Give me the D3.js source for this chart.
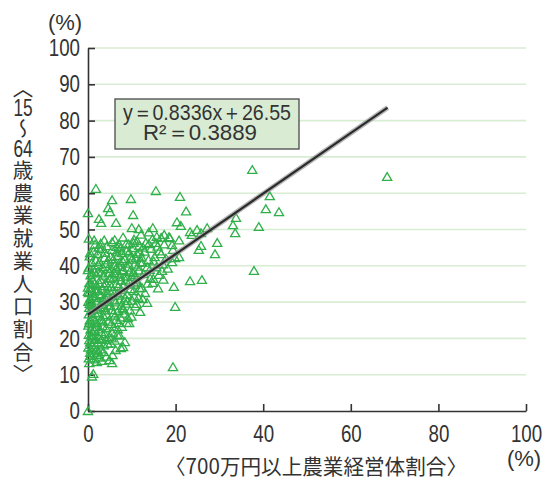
<!DOCTYPE html>
<html>
<head>
<meta charset="utf-8">
<script src="https://cdn.jsdelivr.net/npm/d3@7"></script>
<style>
  body { margin: 0; background: #fff; }
  svg text { fill: #333; }
  .vert { writing-mode: vertical-rl; text-orientation: mixed; }
</style>
</head>
<body>
<div id="chart"></div>
<script>
// tick values
var xTicks = [0, 20, 40, 60, 80, 100];
var yTicks = [0, 10, 20, 30, 40, 50, 60, 70, 80, 90, 100];

// regression
var slope = 0.8336;
var intercept = 26.55;
var r2 = 0.3889;
var lineRange = [0, 68.4];

var xLabel = "〈700万円以上農業経営体割合〉";
// vertical label split in runs: CJK runs stand upright, numbers sit across
var yLabelRuns = ["〈", "15", "〜", "64", "歳農業就業人口割合〉"];
var unit = "(%)";

// [700万円以上割合, 15~64歳就業人口割合]
var ptsSparse = [
  [0,0],[0.9,9.5],[1.2,10.2],[19.4,12.1],[5.5,13.2],[4.9,14],[2,13.5],[8,17.6],[8.4,19],[9.4,24.2],
  [9.1,25.6],[11.9,27.3],[13.5,29.8],[13,32.5],[14.8,35.3],[15.7,48],[19.6,34.2],[19.9,28.7],
  [37.5,66.4],[68.3,64.5],[41.5,59.2],[40.6,55.6],[43.6,54.8],[39,50.7],[33.8,53.2],[33.1,51.2],
  [33.6,49],[23.3,49.3],[24.9,49.9],[27.2,50.4],[25.8,49],[23.7,48.5],[20.8,47],[29.5,46.3],
  [25.8,45.5],[25.3,44.4],[29,43.2],[37.9,38.6],[23.3,35.8],[26,36.1],[21,59],[22.4,55],[20.3,52],
  [21.2,51],[18.7,47.6],[19.2,45.7],[19.4,44.4],[20.8,42.4],[19.9,42.1],[19.2,41],
  [1.8,61.2],[15.5,60.6],[5.5,58.1],[9.8,58.4],[4.6,55.9],[5,54.8],[0,54.5],[10.3,54],[2.5,52.9],
  [3,51.8],[6.4,51.8],[10,50.4],[11.6,50.1],[14.8,50.4],[17.4,48.5],[18.5,47.9],[16.7,47.7],
  [1.4,47],[3.7,47],[5.5,46.5],[7.1,46],[8.7,46],[11.2,46.8],[13.9,46],[15.5,46.3],[0,38.8],[0,34],[0,32.8]
];
var ptsNearZero = [
  [0.2,14.5],[0.5,16],[0.1,17.5],[0.8,18.2],[0.3,19.5],[1.1,20.3],[0.2,21],[0.6,22.4],[1.5,22],[0.1,23.5],
  [0.9,24.1],[1.8,23.2],[0.4,25],[1.2,25.8],[0.2,26.6],[0.7,27.5],[1.6,27],[0.3,28.4],[1.0,29.2],[0.1,30.1],
  [1.9,29.8],[0.5,31],[1.3,31.7],[0.2,32.5],[0.8,33.6],[1.7,33],[0.3,35.2],[1.1,36],[0.6,37.4],[1.5,38.2],
  [0.2,39.5],[0.9,40.8],[1.8,41.5],[0.4,42.6],[1.3,44],[0.7,20.9],[1.4,18.8],[0.6,15.2],[1.9,16.7],[1.2,14.2],
  [1.7,19.6],[0.4,29.5],[1.5,35],[0.9,37.9],
  [0.3,13.2],[0.7,17],[1.4,16],[0.5,18.9],[1.0,21.7],[1.6,24.6],[0.3,24.2],[1.3,28],[0.6,30.4],[1.7,31.2],
  [0.9,34.8],[1.2,39],[0.5,43.5],[1.6,45.8],[0.2,47.5]
];
var ptsLow = [
  [2.1,15.5],[2.8,17],[3.5,16.2],[4.2,15],[2.4,18.8],[3.1,19.7],[4.5,18.5],[2.2,20.6],[3.8,21.2],[4.8,20.4],
  [2.6,22.5],[3.3,23.4],[4.1,22.8],[2.0,24.3],[2.9,25.1],[4.6,24.6],[3.6,26],[2.3,26.9],[4.0,27.7],[2.7,28.6],
  [3.4,29.3],[4.7,28.9],[2.1,30.4],[3.9,31.1],[2.5,32.2],[4.4,32.6],[3.2,33.5],[2.0,34.5],[4.0,35.2],[2.8,36.1],
  [3.6,37.3],[4.9,36.5],[2.3,38.4],[3.3,39.6],[4.5,39.1],[2.6,41],[3.8,42.2],[4.7,41.5],[2.2,43.3],[3.1,44.6],
  [4.3,45.4],[2.9,46.1],[3.5,30.8],[4.6,34],[2.4,40.2],[3.0,21.8],[4.3,26.5],[2.7,35],[3.9,43.6],[4.8,30],
  [3.2,13.8],[2.5,14.7],
  [2.3,16.4],[3.6,18.1],[2.6,19.9],[4.0,19.6],[3.4,24.7],[2.2,27.9],[3.8,28.4],[4.5,31.4],[3.0,31.9],[2.1,33.1],
  [3.7,34.4],[4.9,38],[3.0,37.9],[4.1,40.5],[2.4,45]
];
var ptsMid = [
  [5.2,18.6],[6.1,19.4],[7.2,20.8],[5.6,21.6],[6.8,22.5],[7.7,23.2],[5.3,24],[6.4,25.1],[7.4,25.8],[5.8,26.9],
  [6.9,27.6],[7.9,28.3],[5.1,29],[6.3,29.9],[7.3,30.5],[5.7,31.6],[6.7,32.4],[7.6,33.3],[5.4,34.2],[6.5,35],
  [7.5,35.9],[5.9,36.8],[7.0,37.6],[7.8,38.5],[5.3,39.2],[6.2,40.1],[7.3,40.9],[5.8,41.8],[6.8,42.7],[7.7,43.5],
  [5.5,44.4],[6.5,45.2],[7.4,44.8],[6.0,38],[7.1,31.8],[5.2,36.5],[6.6,43.9],[7.9,41.3],[5.6,15.4],[6.3,16.8],
  [7.5,17.3],
  [5.4,20],[6.7,21],[5.9,23.1],[7.0,24.2],[6.2,26.3],[5.4,27.8],[7.6,29],[6.0,30.5],[6.9,34.2],[5.6,33.1],
  [7.3,36.9],[6.4,39.2],[7.2,39.7],[5.1,42.5],[6.1,47.1]
];
var ptsHigh = [
  [8.3,26.8],[9.6,27.7],[10.8,28.8],[8.6,29.6],[10.1,30.4],[11.5,31.2],[8.9,32.1],[10.4,33],[11.8,33.8],[8.2,34.6],
  [9.5,35.5],[11.0,36.2],[8.7,37.1],[10.2,38],[11.6,38.7],[9.1,39.5],[10.6,40.3],[11.9,41],[8.4,41.8],[9.8,42.6],
  [11.2,43.3],[8.8,44.1],[10.3,44.9],[11.7,45.5],[9.2,40.6],[10.0,41.7],[10.9,42.1],[9.4,43.7],[8.1,38.8],[11.4,39.8],
  [9.9,36.9],[10.7,34.8],[8.5,31],[11.1,29.5],[9.3,45.9],[10.5,47.2],[8.0,47.8],
  [8.8,24.3],[9.9,26],[8.1,28],[9.0,30.3],[10.5,31.6],[9.7,33.6],[8.6,36],[10.8,37.4],[9.5,38.3],[11.2,35.4],
  [12.5,30.8],[11.8,43.7],[10.4,46.3],[12.2,42.3],
  [12.3,33.9],[13.6,35.1],[14.9,36.4],[16.2,37.5],[12.7,37.7],[14.1,38.9],[15.6,39.6],[17.1,40.4],[12.4,40.8],
  [13.8,41.6],[15.2,42.4],[16.7,43.2],[12.9,43.9],[14.4,44.7],[15.9,45.3],[17.4,45.9],[13.2,46.3],[14.7,47.3],
  [16.3,44],[17.8,42],[13.5,39.6],[15,41.2],[12.6,45],[16.9,38.6],[14.2,36.5],[12.1,48.6],[13.9,49.2],[17.2,36.2],
  [16,33.8],[18.2,39.2]
];
var points = ptsSparse.concat(ptsNearZero, ptsLow, ptsMid, ptsHigh);

var svgW = 547, svgH = 481;
var margin = {top: 48, right: 21, bottom: 70, left: 88};
var width  = svgW - margin.left - margin.right;
var height = svgH - margin.top - margin.bottom;

var svg = d3.select("#chart").append("svg")
            .attr("width", svgW)
            .attr("height", svgH);

var g = svg.append("g")
           .attr("transform", "translate(" + margin.left + "," + margin.top + ")");

var x = d3.scaleLinear().domain([0, 100]).range([0, width]);
var y = d3.scaleLinear().domain([0, 100]).range([height, 0]);

// squeeze latin text, the original uses a condensed face
function condense(sel, k) {
  sel.each(function() {
    var w = this.getComputedTextLength();
    d3.select(this).attr("textLength", w * k).attr("lengthAdjust", "spacingAndGlyphs");
  });
}

// grid
g.append("g").selectAll("line")
 .data(yTicks.filter(d => d > 0))
 .enter().append("line")
 .attr("x1", 0).attr("x2", width)
 .attr("y1", d => y(d)).attr("y2", d => y(d))
 .attr("stroke", "#d8edd3")
 .attr("stroke-width", 1.6);

// axes
var yAxis = d3.axisLeft(y).tickValues(yTicks).tickSizeInner(-7).tickSizeOuter(0).tickPadding(8);
var xAxis = d3.axisBottom(x).tickValues(xTicks).tickSizeInner(-7).tickSizeOuter(0).tickPadding(14);

var gy = g.append("g").attr("class", "y-axis").call(yAxis);
var gx = g.append("g").attr("class", "x-axis")
          .attr("transform", "translate(0," + height + ")").call(xAxis);

[gx, gy].forEach(function(a) {
  a.select(".domain").attr("stroke", "#333").attr("stroke-width", 1.6);
  a.selectAll(".tick line").attr("stroke", "#333").attr("stroke-width", 1.6);
  a.selectAll(".tick text")
   .attr("fill", "#333")
   .style("font-family", "'Liberation Sans', Arial, sans-serif")
   .style("font-size", "24px");
});
condense(gx.selectAll(".tick text"), 0.78);
condense(gy.selectAll(".tick text"), 0.78);

// points
var tri = "M0,-4.3L4.6,3.5L-4.6,3.5Z";
g.append("g").selectAll("path")
 .data(points)
 .enter().append("path")
 .attr("d", tri)
 .attr("transform", d => "translate(" + x(d[0]) + "," + y(d[1]) + ")")
 .attr("fill", "none")
 .attr("stroke", "#30b04a")
 .attr("stroke-width", 1.3);

// regression line
var lineData = lineRange.map(v => [v, slope * v + intercept]);
var lineGen = d3.line().x(d => x(d[0])).y(d => y(d[1]));
g.append("path").datum(lineData)
 .attr("d", lineGen)
 .attr("stroke", "#999").attr("stroke-opacity", 0.7)
 .attr("stroke-width", 5).attr("fill", "none");
g.append("path").datum(lineData)
 .attr("d", lineGen)
 .attr("stroke", "#2b2b2b")
 .attr("stroke-width", 2.2).attr("fill", "none");

// equation box
var box = svg.append("g").attr("class", "eq");
box.append("rect")
   .attr("x", 115).attr("y", 99).attr("width", 184).attr("height", 50)
   .attr("fill", "#d9ecd3").attr("stroke", "#555").attr("stroke-width", 1.4);
box.append("text")
   .attr("x", 207).attr("y", 120).attr("text-anchor", "middle")
   .style("font-family", "'Liberation Sans', Arial, sans-serif").style("font-size", "22px")
   .attr("textLength", 168).attr("lengthAdjust", "spacingAndGlyphs")
   .text("y＝" + slope + "x＋" + intercept);
box.append("text")
   .attr("x", 200).attr("y", 140).attr("text-anchor", "middle")
   .style("font-family", "'Liberation Sans', Arial, sans-serif").style("font-size", "22px")
   .attr("textLength", 114).attr("lengthAdjust", "spacingAndGlyphs")
   .text("R²＝" + r2);

// units
svg.append("text")
   .attr("x", 65).attr("y", 30).attr("text-anchor", "middle")
   .style("font-family", "'Liberation Sans', Arial, sans-serif").style("font-size", "22px")
   .text(unit);
svg.append("text")
   .attr("x", 524).attr("y", 466).attr("text-anchor", "middle")
   .style("font-family", "'Liberation Sans', Arial, sans-serif").style("font-size", "22px")
   .text(unit);

// x label
svg.append("text")
   .attr("x", 316).attr("y", 474).attr("text-anchor", "middle")
   .style("font-family", "'Noto Sans CJK JP', sans-serif").style("font-size", "21px")
   .attr("textLength", 302).attr("lengthAdjust", "spacingAndGlyphs")
   .text(xLabel);

// y label, vertical writing; numbers are set across (tate-chu-yoko)
var yl = svg.append("g").attr("class", "y-label");
var runTop = [78, 98, 118, 139, 160];
yLabelRuns.forEach(function(t, i) {
  var txt = yl.append("text").text(t);
  if (/^[0-9]+$/.test(t)) {
    txt.attr("x", 23).attr("y", runTop[i] + 18)
       .attr("text-anchor", "middle")
       .style("font-family", "'Liberation Sans', Arial, sans-serif").style("font-size", "24px");
    condense(txt, 0.72);
  } else {
    txt.attr("class", "vert")
       .attr("x", 23).attr("y", runTop[i])
       .style("font-family", "'Noto Sans CJK JP', sans-serif").style("font-size", "20.5px")
       .style("letter-spacing", "2.2px");
  }
});
</script>
</body>
</html>
